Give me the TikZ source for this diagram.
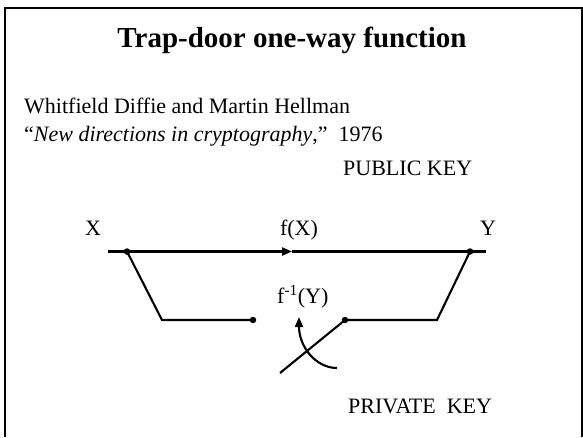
\documentclass[tikz,border=0pt]{standalone}
\usepackage{fontspec}
\setmainfont{Liberation Serif}
\usetikzlibrary{arrows.meta, positioning}
\tikzset{
  wire/.style={line width=2.1pt, color=black},
  arrow/.style={wire, -{Triangle[length=10pt, width=8pt]}},
  dot/.style={circle, fill=black, inner sep=0pt, minimum size=6.5pt},
  lbl/.style={font=\fontsize{22}{26}\selectfont, inner sep=0pt},
  titletext/.style={font=\fontsize{29}{34}\selectfont\bfseries, inner sep=0pt}
}

\begin{document}
\begin{tikzpicture}[x=1pt, y=-1pt]
  \useasboundingbox (0,0) rectangle (583,437);
  % slide frame (bottom edge cut off)
  \draw[line width=2pt] (5,437) -- (5,7.5) -- (582,7.5) -- (582,437);

  \node[titletext, anchor=base] (title) at (292,47) {Trap-door one-way function};
  \node[lbl, anchor=base west] (authors) at (24,113) {Whitfield Diffie and Martin Hellman};
  \node[lbl, anchor=base west] (paper) at (24,141)
    {``\textit{New directions in cryptography},''\ \ 1976};
  \node[lbl, anchor=base west] (pubkey) at (343,175.5) {PUBLIC KEY};
  \node[lbl, anchor=base west] (privkey) at (348,413) {PRIVATE\ \ KEY};

  \node[lbl, anchor=base west] (xlbl) at (85,235) {X};
  \node[lbl, anchor=base] (fxlbl) at (299,235) {f(X)};
  \node[lbl, anchor=base west] (ylbl) at (480,235) {Y};
  \node[lbl, anchor=base west] (finv) at (277,303) {f\textsuperscript{-1}(Y)};

  % public path
  \coordinate (lin) at (108,251.5);
  \coordinate (fx) at (292,251.5);
  \coordinate (rout) at (486,251.5);
  \node[dot] (xin) at (127,251.5) {};
  \node[dot] (yout) at (470,251.5) {};

  % trap-door path
  \coordinate (lcorner) at (162,320);
  \coordinate (rcorner) at (437,320);
  \node[dot] (lsw) at (253,320) {};
  \node[dot] (rsw) at (345,320) {};
  \coordinate (lever) at (280,373);
  \coordinate (kstart) at (337,368);
  \coordinate (ktip) at (299,317);

  \draw[arrow] (lin) -- (fx);
  \draw[wire] (fx) -- (rout);
  \draw[wire] (xin.center) -- (lcorner) -- (lsw.center);
  \draw[wire] (yout.center) -- (rcorner) -- (rsw.center);
  \draw[wire] (rsw.center) -- (lever);
  \draw[arrow] (kstart) .. controls (316,368) and (299,347) .. (ktip);
\end{tikzpicture}
\end{document}
